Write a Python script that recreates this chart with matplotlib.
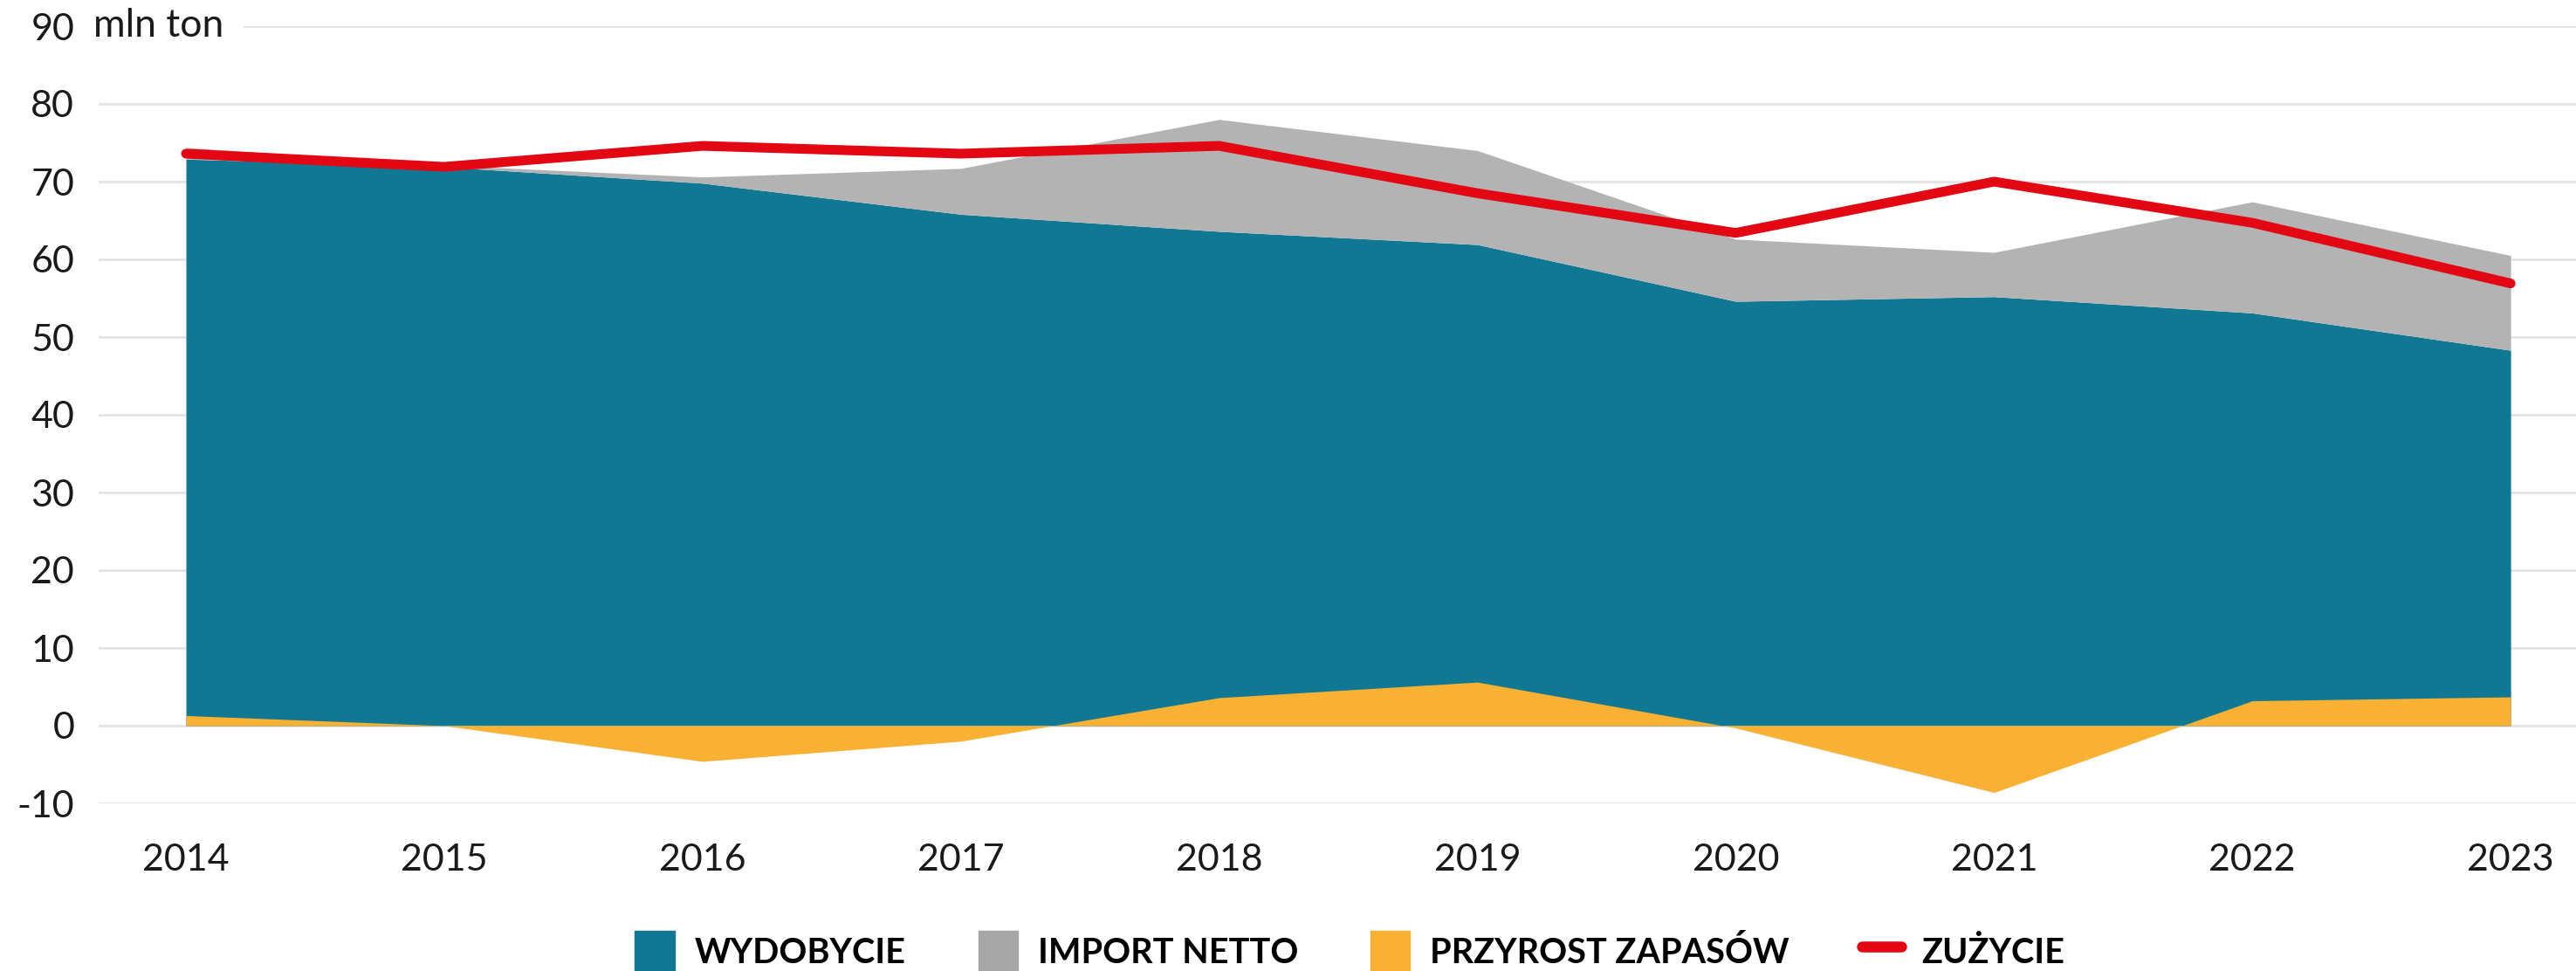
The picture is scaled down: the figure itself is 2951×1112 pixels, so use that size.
import numpy as np
import matplotlib
matplotlib.use("Agg")
import matplotlib.pyplot as plt
from matplotlib.patches import Patch
from matplotlib.lines import Line2D

plt.rcParams['font.family'] = ['Lato', 'DejaVu Sans']

# Dane (mln ton)
years = [2014, 2015, 2016, 2017, 2018, 2019, 2020, 2021, 2022, 2023]
wydobycie = [72.9, 71.9, 69.8, 65.8, 63.6, 61.9, 54.6, 55.2, 53.1, 48.3]
import_netto = [1.5, 0.2, 0.8, 5.9, 14.4, 12.1, 8.0, 5.7, 14.3, 12.2]
przyrost_zapasow = [1.3, 0.0, -4.6, -2.0, 3.6, 5.6, -0.3, -8.6, 3.2, 3.7]
zuzycie = [73.6, 71.9, 74.6, 73.6, 74.6, 68.5, 63.4, 70.0, 64.7, 56.9]

labels = ['WYDOBYCIE', 'IMPORT NETTO', 'PRZYROST ZAPASÓW', 'ZUŻYCIE']
yticks = [-10, 0, 10, 20, 30, 40, 50, 60, 70, 80, 90]

c_blue = '#117894'
c_gray = '#b3b3b3'
c_gray_leg = '#a6a6a6'
c_orange = '#f8b133'
c_red = '#e30613'

fig = plt.figure(figsize=(29.51, 11.12), dpi=100)
ax = fig.add_axes([113 / 2951, 1 - 920 / 1112, 1 - 113 / 2951, 890 / 1112])

x = np.array(years)
prod = np.array(wydobycie)
top = prod + np.array(import_netto)

ax.fill_between(x, 0, prod, color=c_blue, lw=0, zorder=2)
ax.fill_between(x, prod, top, color=c_gray, lw=0, zorder=2)
ax.fill_between(x, 0, przyrost_zapasow, color=c_orange, lw=0, zorder=3)
ax.plot(x, zuzycie, color=c_red, lw=8, solid_capstyle='round',
        solid_joinstyle='round', zorder=4)

ax.set_xlim(2013.662, 2023.253)
ax.set_ylim(-10, 90)
ax.set_yticks(yticks)
ax.set_yticklabels([str(v) for v in yticks])
ax.set_xticks(years)
ax.set_xticklabels([str(y) for y in years])
ax.yaxis.grid(True, color='#e3e3e3', lw=2, zorder=0)
ax.set_axisbelow(True)
for s in ax.spines.values():
    s.set_visible(False)
ax.tick_params(axis='both', length=0, labelsize=31, colors='#1a1a1a')
ax.tick_params(axis='y', pad=20)
ax.tick_params(axis='x', pad=33)

# jednostka obok etykiety 90 (białe tło zasłania początek linii siatki)
ax.text(-0.002, 90, 'mln ton', transform=ax.get_yaxis_transform(),
        fontsize=32, color='#1a1a1a', va='center', ha='left', zorder=5,
        bbox=dict(boxstyle='square,pad=0.5', fc='white', ec='none'))

handles = [
    Patch(color=c_blue),
    Patch(color=c_gray_leg),
    Patch(color=c_orange),
    Line2D([0], [0], color=c_red, lw=9, solid_capstyle='round'),
]
fig.legend(handles, labels, loc='center', bbox_to_anchor=(0.524, 0.02),
           ncol=4, frameon=False,
           prop={'weight': 'bold', 'size': 28.5},
           handlelength=1.14, handleheight=1.5, handletextpad=0.58,
           columnspacing=2.1, borderaxespad=0)

fig.savefig('out.png', dpi=100)
